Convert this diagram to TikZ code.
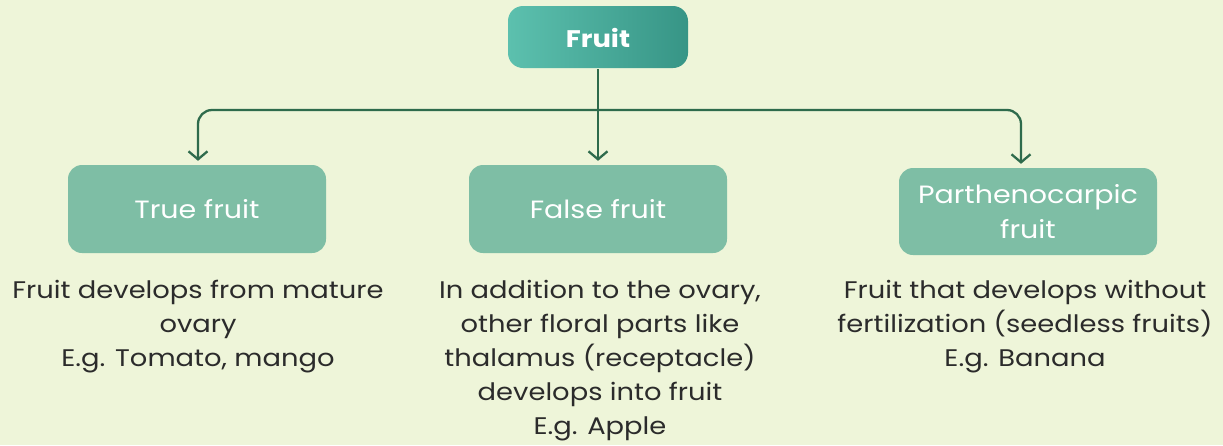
\documentclass[tikz,border=0pt]{standalone}
\usepackage{fontspec}
\setmainfont{Poppins}[FakeStretch=1.14]
\usetikzlibrary{arrows.meta}
\definecolor{bg}{HTML}{EEF5D9}
\definecolor{boxc}{HTML}{7EBEA5}
\definecolor{topl}{HTML}{5CC0AE}
\definecolor{topr}{HTML}{379586}
\definecolor{linec}{HTML}{2E6B4C}
\definecolor{txt}{HTML}{2B2B2B}
\tikzset{
  x=1pt, y=-1pt,
  catbox/.style={fill=boxc, rounded corners=14pt, minimum width=258pt, minimum height=88pt, text=white, font=\fontsize{25}{35}\selectfont, align=center, inner sep=0pt},
  desc/.style={text=txt, font=\fontsize{24}{34}\selectfont, align=center, anchor=north, inner sep=0pt},
  conn/.style={draw=linec, line width=2.3pt, shorten >=4pt, -{Straight Barb[length=8pt,width=19pt,line width=2.3pt]}},
}
\begin{document}
\begin{tikzpicture}
\useasboundingbox (0,0) rectangle (1223,445);
\fill[bg] (0,0) rectangle (1223,445);
\shade[left color=topl, right color=topr, rounded corners=15pt] (508,6) rectangle (688,68);
\node[text=white, font=\fontsize{24}{28}\selectfont\bfseries, inner sep=0pt, minimum width=180pt, minimum height=62pt] (fruit) at (598,38) {Fruit};
\node[catbox] (tf) at (197,209) {True fruit};
\node[catbox] (ff) at (598,209) {False fruit};
\node[catbox, minimum height=87pt] (pf) at (1028,211.5) {Parthenocarpic\\fruit};
\coordinate (bar) at (598,110);
\draw[conn] (fruit.south) -- (ff.north);
\draw[conn, rounded corners=14pt] (bar) -| (tf.north -| 198,0);
\draw[conn, rounded corners=14pt] (bar) -| (pf.north -| 1021,0);
\node[desc] (tfd) at (198,280) {Fruit develops from mature\\ovary\\E.g. Tomato, mango};
\node[desc] (ffd) at (600,280) {In addition to the ovary,\\other floral parts like\\thalamus (receptacle)\\develops into fruit\\E.g. Apple};
\node[desc] (pfd) at (1025,280) {Fruit that develops without\\fertilization (seedless fruits)\\E.g. Banana};
\end{tikzpicture}
\end{document}
